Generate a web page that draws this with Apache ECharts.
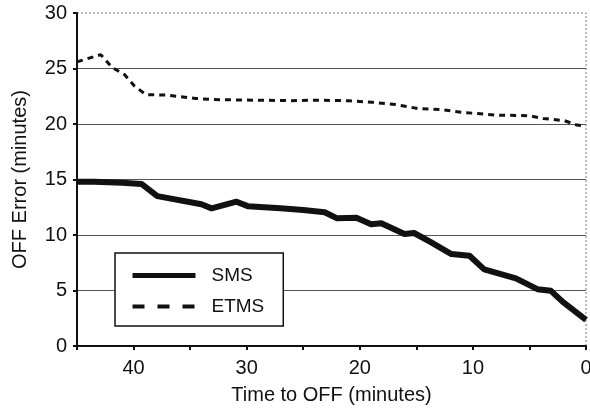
<!DOCTYPE html>
<html>
<head>
<meta charset="utf-8">
<script src="https://cdn.jsdelivr.net/npm/echarts@6/dist/echarts.min.js"></script>
<style>
  html, body { margin: 0; padding: 0; background: #fff; }
  #chart { width: 590px; height: 408px; }
</style>
</head>
<body>
<div id="chart"></div>
<script>
// Minutes before OFF (x) and OFF error in minutes (y) for each system
const smsTime  = [45, 43.5, 41, 39.3, 37.9, 34.0, 33.1, 30.9, 29.9, 27, 25, 23.1, 22.0, 20.3, 19.0, 18.1, 16.05, 15.2, 13.8, 11.9, 10.3, 9.0, 6.2, 4.3, 3.1, 2.05, 0];
const smsError = [14.8, 14.8, 14.7, 14.6, 13.5, 12.77, 12.4, 13.0, 12.6, 12.4, 12.25, 12.05, 11.5, 11.56, 10.97, 11.05, 10.09, 10.18, 9.4, 8.28, 8.13, 6.9, 6.09, 5.12, 4.97, 3.97, 2.35];

const etmsTime  = [45, 42.9, 41.9, 40.8, 39.9, 38.9, 37, 35.8, 34.5, 33, 26, 24, 21, 18.9, 16.8, 14.9, 12.9, 10.9, 7.9, 5, 3.8, 1.9, 0.8, 0];
const etmsError = [25.6, 26.25, 25.1, 24.45, 23.4, 22.65, 22.6, 22.45, 22.3, 22.2, 22.1, 22.15, 22.1, 21.95, 21.75, 21.4, 21.3, 21.05, 20.8, 20.75, 20.5, 20.3, 19.9, 19.8];

const seriesNames = ['SMS', 'ETMS'];
const xTicks = [0, 10, 20, 30, 40];

const pairs = (xs, ys) => xs.map((x, i) => [x, ys[i]]);
const font = 'Liberation Sans, Arial, sans-serif';
const hiddenSymbol = { color: 'transparent', borderWidth: 0 };

const chart = echarts.init(document.getElementById('chart'), null, { renderer: 'canvas' });
chart.setOption({
  animation: false,
  backgroundColor: '#fff',
  textStyle: { fontFamily: font },
  // dotted frame on the top and right edges of the plot
  grid: {
    left: 77, right: 4, top: 13, bottom: 62,
    outerBoundsMode: 'none',
    containLabel: false,
    show: true,
    borderColor: '#777',
    borderWidth: 1,
    borderType: [2, 2]
  },
  legend: {
    orient: 'vertical',
    left: 115,
    top: 253,
    padding: [13, 19, 10, 15],
    itemGap: 12,
    itemWidth: 63,
    itemHeight: 14,
    backgroundColor: '#fff',
    borderColor: '#111',
    borderWidth: 1.5,
    borderRadius: 0,
    selectedMode: false,
    textStyle: { fontFamily: font, fontSize: 19, color: '#111', padding: [0, 0, 0, 11] },
    data: [
      { name: seriesNames[0], itemStyle: hiddenSymbol, lineStyle: { width: 5, color: '#111', type: 'solid' } },
      { name: seriesNames[1], itemStyle: hiddenSymbol, lineStyle: { width: 4, color: '#111', type: [12, 13] } }
    ]
  },
  xAxis: {
    type: 'value',
    inverse: true,
    min: 0,
    max: 45,
    interval: 5,
    name: 'Time to OFF (minutes)',
    nameLocation: 'middle',
    nameGap: 39,
    nameTextStyle: { fontFamily: font, fontSize: 20, color: '#111' },
    axisLine: { onZero: false, lineStyle: { color: '#111', width: 2 } },
    axisTick: { show: true, length: 4, lineStyle: { color: '#111', width: 2 } },
    axisLabel: {
      margin: 12,
      fontFamily: font, fontSize: 20, color: '#111',
      formatter: v => (xTicks.indexOf(v) >= 0 ? String(v) : '')
    },
    splitLine: { show: false }
  },
  yAxis: {
    type: 'value',
    min: 0,
    max: 30,
    interval: 5,
    name: 'OFF Error (minutes)',
    nameLocation: 'middle',
    nameGap: 47,
    nameTextStyle: { fontFamily: font, fontSize: 20, color: '#111' },
    axisLine: { show: true, onZero: false, lineStyle: { color: '#111', width: 2 } },
    axisTick: { show: true, length: 4, lineStyle: { color: '#111', width: 2 } },
    axisLabel: { margin: 10, fontFamily: font, fontSize: 20, color: '#111' },
    splitLine: {
      show: true,
      lineStyle: { color: ['transparent', '#555', '#555', '#555', '#555', '#555', 'transparent'], width: 1 }
    }
  },
  series: [
    {
      name: seriesNames[0],
      type: 'line',
      symbol: 'none',
      z: 3,
      itemStyle: { color: '#111' },
      lineStyle: { color: '#111', width: 6, join: 'round' },
      data: pairs(smsTime, smsError)
    },
    {
      name: seriesNames[1],
      type: 'line',
      symbol: 'none',
      z: 3,
      itemStyle: { color: '#111' },
      lineStyle: { color: '#111', width: 3, type: [6, 5] },
      data: pairs(etmsTime, etmsError)
    }
  ]
});
</script>
</body>
</html>
